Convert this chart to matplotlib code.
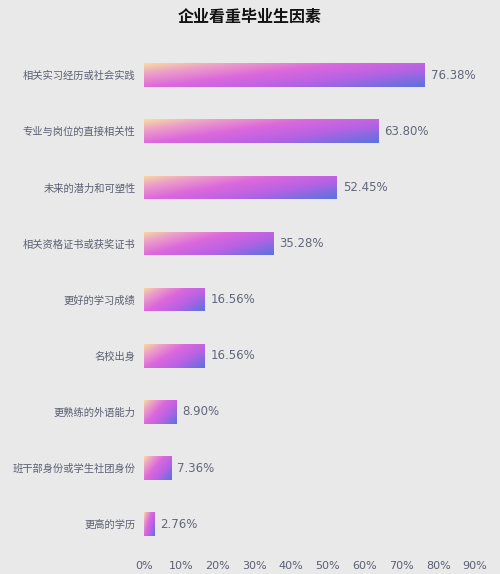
import matplotlib

matplotlib.use("Agg")
import matplotlib.pyplot as plt
from matplotlib.colors import LinearSegmentedColormap
import numpy as np

plt.rcParams["font.family"] = ["Noto Sans CJK SC", "DejaVu Sans"]

# data
categories = [
    "相关实习经历或社会实践",
    "专业与岗位的直接相关性",
    "未来的潜力和可塑性",
    "相关资格证书或获奖证书",
    "更好的学习成绩",
    "名校出身",
    "更熟练的外语能力",
    "班干部身份或学生社团身份",
    "更高的学历",
]
values = [76.38, 63.80, 52.45, 35.28, 16.56, 16.56, 8.90, 7.36, 2.76]
xticks = [0, 10, 20, 30, 40, 50, 60, 70, 80, 90]
title = "企业看重毕业生因素"

bg = "#e9e9e9"
text_col = "#5a5e72"
cmap = LinearSegmentedColormap.from_list(
    "bar",
    [(0.0, "#f8dc9c"), (0.18, "#eca0c8"), (0.42, "#dc68dc"),
     (0.68, "#b662e4"), (1.0, "#5a72de")],
)

fig = plt.figure(figsize=(5.0, 5.74), dpi=100, facecolor=bg)
ax = fig.add_axes([0.288, 0.038, 0.662, 0.880], facecolor=bg)

y = np.arange(len(categories))
bars = ax.barh(y, values, height=0.42, color="none", edgecolor="none")

# diagonal gradient: top-left peach -> magenta -> bottom-right blue
u = np.linspace(0, 1, 200)[None, :]
v = np.linspace(0, 1, 40)[:, None]  # 0 at top row of image
grad = 0.6 * u + 0.4 * v
for patch in bars:
    x0, y0 = patch.get_x(), patch.get_y()
    w, h = patch.get_width(), patch.get_height()
    im = ax.imshow(
        grad,
        cmap=cmap,
        vmin=0,
        vmax=1,
        extent=(x0, x0 + w, y0 + h, y0),
        origin="upper",
        aspect="auto",
        interpolation="bilinear",
        zorder=2,
    )
    im.set_clip_path(patch)

for yi, val in zip(y, values):
    ax.text(val + 1.6, yi, f"{val:.2f}%", va="center", ha="left",
            fontsize=8.5, color="#62667a", family=["DejaVu Sans"])

ax.set_xlim(0, 90)
ax.set_ylim(len(categories) - 0.5, -0.5)
ax.set_yticks(y)
ax.set_yticklabels(categories, fontsize=7.4, color=text_col)
ax.set_xticks(xticks)
ax.set_xticklabels([f"{t}%" for t in xticks], fontsize=8, color=text_col,
                   family=["DejaVu Sans"])
ax.tick_params(length=0)
ax.tick_params(axis="y", pad=6)
ax.tick_params(axis="x", pad=6)
for s in ax.spines.values():
    s.set_visible(False)

fig.text(0.5, 0.97, title, ha="center", va="center", fontsize=11.5,
         fontweight="black", color="#111111")

fig.savefig("out.png", dpi=100, facecolor=bg)
